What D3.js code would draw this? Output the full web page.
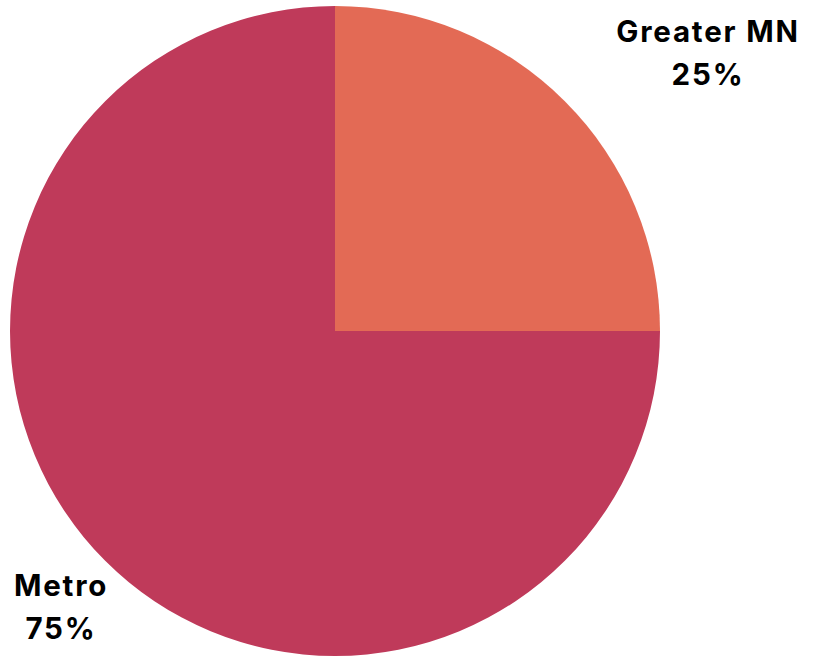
<!DOCTYPE html>
<html>
<head>
<meta charset="utf-8">
<script src="https://cdn.jsdelivr.net/npm/d3@7"></script>
<style>
  html, body { margin: 0; padding: 0; background: #fff; }
  svg { display: block; }
  .lbl { font-family: Inter, "Open Sans", "DejaVu Sans", sans-serif; font-weight: 700; fill: #000; }
</style>
</head>
<body>
<svg id="chart" width="820" height="656"></svg>
<script>
// Share of total by region
const regions = ["Greater MN", "Metro"];
const shares = [25, 75];
const colors = ["#E36A55", "#BF3A5A"];

const svg = d3.select("#chart");
const cx = 335, cy = 331, radius = 325;

const pie = d3.pie().sort(null).value(d => d.value);
const arcs = pie(regions.map((r, i) => ({ name: r, value: shares[i], color: colors[i] })));
const arc = d3.arc().innerRadius(0).outerRadius(radius);

const g = svg.append("g").attr("transform", `translate(${cx},${cy})`);
g.selectAll("path")
  .data(arcs)
  .join("path")
  .attr("d", arc)
  .attr("fill", d => d.data.color);

// Labels placed outside the pie corners
const labelPos = {
  "Greater MN": { x: 708, y: 42 },
  "Metro": { x: 61, y: 596 }
};
const lineGap = 43;

arcs.forEach(d => {
  const p = labelPos[d.data.name];
  const t = svg.append("text")
    .attr("class", "lbl")
    .attr("text-anchor", "middle")
    .attr("font-size", 29.5)
    .attr("letter-spacing", 1.8);
  t.append("tspan").attr("x", p.x).attr("y", p.y).text(d.data.name);
  t.append("tspan").attr("x", p.x).attr("y", p.y + lineGap).text(`${d.data.value}%`);
});
</script>
</body>
</html>
